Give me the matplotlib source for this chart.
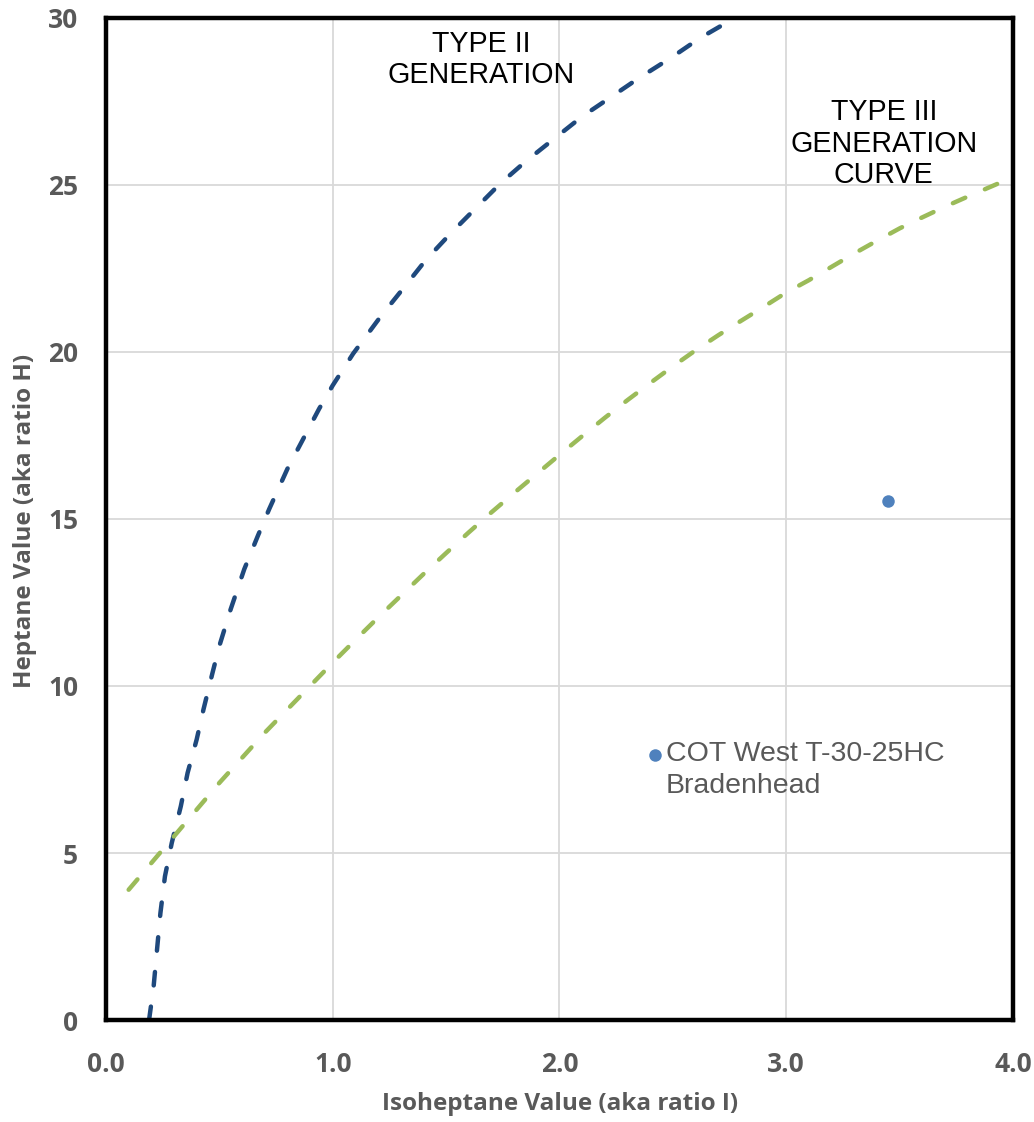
import numpy as np
import matplotlib
matplotlib.use("Agg")
import matplotlib.pyplot as plt
from matplotlib.ticker import FormatStrFormatter

# Type II generation curve
type2_x = [0.19, 0.21, 0.225, 0.24, 0.26, 0.29, 0.33, 0.36, 0.40, 0.43, 0.47, 0.50,
           0.55, 0.61, 0.67, 0.72, 0.80, 0.87, 0.94, 1.00, 1.09, 1.21, 1.32, 1.41,
           1.52, 1.63, 1.74, 1.85, 1.97, 2.10, 2.22, 2.35, 2.49, 2.62, 2.76, 2.80]
type2_y = [0.0, 1.0, 2.1, 3.2, 4.3, 5.3, 6.4, 7.4, 8.4, 9.3, 10.4, 11.2,
           12.3, 13.5, 14.5, 15.3, 16.5, 17.4, 18.3, 19.0, 19.95, 21.05, 21.98, 22.75,
           23.55, 24.3, 25.05, 25.7, 26.35, 27.05, 27.6, 28.2, 28.8, 29.4, 29.95, 30.1]

# Type III generation curve
type3_x = [0.10, 0.20, 0.30, 0.40, 0.50, 0.60, 0.70, 0.80, 0.90, 1.00, 1.10, 1.20,
           1.30, 1.40, 1.50, 1.60, 1.70, 1.80, 1.90, 2.00, 2.10, 2.20, 2.30, 2.40,
           2.50, 2.60, 2.70, 2.80, 2.90, 3.00, 3.10, 3.20, 3.30, 3.40, 3.50, 3.60,
           3.70, 3.80, 3.93]
type3_y = [3.9, 4.7, 5.5, 6.3, 7.1, 7.85, 8.6, 9.3, 10.0, 10.7, 11.38, 12.05,
           12.7, 13.35, 13.98, 14.6, 15.2, 15.78, 16.35, 16.92, 17.48, 18.03, 18.56, 19.07,
           19.57, 20.05, 20.5, 20.93, 21.35, 21.78, 22.15, 22.55, 22.95, 23.33, 23.7, 24.03,
           24.35, 24.65, 25.03]

# samples
sample_x = [3.45, 2.42]
sample_y = [15.55, 7.94]
sample_label = "COT West T-30-25HC\nBradenhead"

x_ticks = [0.0, 1.0, 2.0, 3.0, 4.0]
y_ticks = [0, 5, 10, 15, 20, 25, 30]

GRAY = "#595959"
TICK_FONT = ["Open Sans", "DejaVu Sans"]
TEXT_FONT = ["Liberation Sans", "DejaVu Sans"]

fig = plt.figure(figsize=(10.34, 11.22), dpi=100)
ax = fig.add_axes([0.1025, 0.0909, 0.8772, 0.8931])

ax.plot(type2_x, type2_y, color="#1F497D", lw=3.2, dashes=(3.05, 4.8),
        dash_capstyle="round", zorder=3)
ax.plot(type3_x, type3_y, color="#9BBB59", lw=3.2, dashes=(3.05, 4.8),
        dash_capstyle="round", zorder=3)
ax.plot(sample_x, sample_y, "o", color="#4F81BD", ms=9, mew=0, zorder=4)

ax.annotate(sample_label, (sample_x[1], sample_y[1]), xytext=(8, 10),
            textcoords="offset points", ha="left", va="top", color=GRAY,
            fontsize=20.5, family=TEXT_FONT, linespacing=1.3)

ax.text(1.656, 28.76, "TYPE II\nGENERATION", ha="center", va="center",
        fontsize=20.6, family=TEXT_FONT, linespacing=1.17, color="black")
ax.text(3.43, 26.24, "TYPE III\nGENERATION\nCURVE", ha="center", va="center",
        fontsize=20.6, family=TEXT_FONT, linespacing=1.17, color="black")

ax.set_xlim(0, 4)
ax.set_ylim(0, 30)
ax.set_xticks(x_ticks)
ax.set_yticks(y_ticks)
ax.xaxis.set_major_formatter(FormatStrFormatter("%.1f"))
ax.grid(True, color="#D9D9D9", lw=1.3, zorder=0)
ax.set_axisbelow(True)
ax.tick_params(length=0, labelsize=19, labelcolor=GRAY)
ax.tick_params(axis="x", pad=22)
ax.tick_params(axis="y", pad=20)
for lab in ax.get_xticklabels() + ax.get_yticklabels():
    lab.set_family(TICK_FONT)
    lab.set_fontweight("bold")

for sp in ax.spines.values():
    sp.set_linewidth(3.2)
    sp.set_color("black")
    sp.set_zorder(5)

fig.text(560 / 1034, 1 - 1104 / 1122, "Isoheptane Value (aka ratio I)",
         ha="center", va="center", fontsize=17.5, fontweight="bold",
         color=GRAY, family=TICK_FONT)
fig.text(25 / 1034, 1 - 521 / 1122, "Heptane Value (aka ratio H)",
         ha="center", va="center", rotation=90, fontsize=17.5, fontweight="bold",
         color=GRAY, family=TICK_FONT)

fig.savefig("out.png", dpi=100)
